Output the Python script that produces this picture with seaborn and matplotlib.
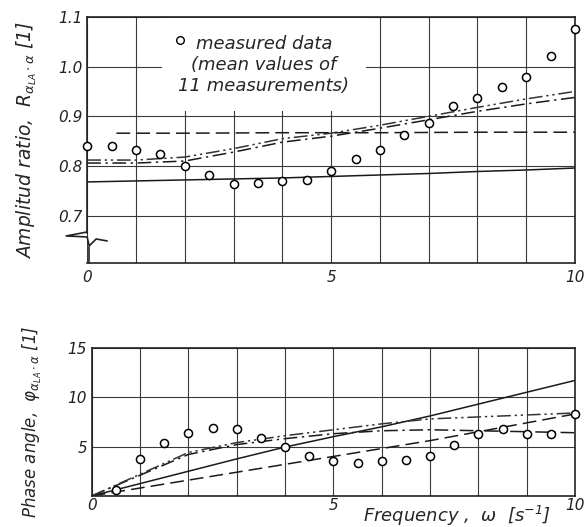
import numpy as np
import pandas as pd
import matplotlib
matplotlib.use("Agg")
import matplotlib.pyplot as plt
import seaborn as sns
from matplotlib.ticker import FixedLocator, FixedFormatter

# ---------------- data ----------------
omega_model = [0, 1, 2, 3, 4, 5, 6, 7, 8, 9, 10]

amp_solid = [0.768, 0.770, 0.772, 0.774, 0.776, 0.779, 0.782, 0.785, 0.789, 0.792, 0.796]
amp_dashdot = [0.806, 0.806, 0.810, 0.828, 0.848, 0.860, 0.876, 0.893, 0.910, 0.925, 0.938]
amp_dashdotdot = [0.812, 0.812, 0.818, 0.835, 0.855, 0.866, 0.882, 0.900, 0.918, 0.935, 0.950]
omega_amp_dashed = [0.6, 2, 4, 6, 8, 10]
amp_dashed = [0.866, 0.866, 0.867, 0.867, 0.868, 0.868]

omega_amp_meas = [0, 0.5, 1, 1.5, 2, 2.5, 3, 3.5, 4, 4.5, 5, 5.5, 6, 6.5, 7, 7.5, 8, 8.5, 9, 9.5, 10]
amp_meas = [0.840, 0.840, 0.833, 0.825, 0.800, 0.781, 0.764, 0.766, 0.769, 0.772, 0.790,
            0.815, 0.833, 0.863, 0.886, 0.920, 0.937, 0.958, 0.980, 1.022, 1.075]

phase_solid = [0, 1.25, 2.5, 3.75, 4.95, 6.0, 7.0, 8.1, 9.3, 10.5, 11.7]
phase_dashed = [0, 0.8, 1.6, 2.4, 3.2, 4.0, 4.8, 5.6, 6.5, 7.4, 8.3]
phase_dashdot = [0, 2.1, 4.2, 5.2, 5.8, 6.3, 6.6, 6.7, 6.6, 6.5, 6.4]
phase_dashdotdot = [0, 2.2, 4.4, 5.4, 6.1, 6.7, 7.3, 7.8, 8.0, 8.2, 8.4]

omega_phase_meas = [0.5, 1, 1.5, 2, 2.5, 3, 3.5, 4, 4.5, 5, 5.5, 6, 6.5, 7, 7.5, 8, 8.5, 9, 9.5, 10]
phase_meas = [0.6, 3.76, 5.4, 6.4, 6.85, 6.8, 5.85, 5.0, 4.0, 3.5, 3.3, 3.5, 3.6, 4.0,
              5.2, 6.3, 6.8, 6.3, 6.3, 8.3]

x_ticks = [0, 1, 2, 3, 4, 5, 6, 7, 8, 9, 10]
x_tick_labels = ['0', '', '', '', '', '5', '', '', '', '', '10']
amp_ticks = [0.7, 0.8, 0.9, 1.0, 1.1]
amp_tick_labels = ['0.7', '0.8', '0.9', '1.0', '1.1']
phase_ticks = [0, 5, 10, 15]
phase_tick_labels = ['', '5', '10', '15']

legend_lines = ['measured data', '(mean values of', '11 measurements)']

# ---------------- style ----------------
sns.set_theme(style="white")
plt.rcParams['font.family'] = ['DejaVu Sans']
plt.rcParams['font.style'] = 'italic'
plt.rcParams['mathtext.fontset'] = 'dejavusans'
plt.rcParams['mathtext.default'] = 'it'

DASHED = (0, (9, 4))
DASHDOT = (0, (9, 3, 1.5, 3))
DASHDOTDOT = (0, (9, 2.5, 1.5, 2.5, 1.5, 2.5))
LW = 1.1

fig = plt.figure(figsize=(5.85, 5.27), dpi=100)
fig.patch.set_facecolor('white')
ax1 = fig.add_axes([0.149, 0.501, 0.834, 0.467])
ax2 = fig.add_axes([0.157, 0.059, 0.826, 0.281])


def style_axes(ax, yticks, ylabels):
    ax.set_xlim(0, 10)
    ax.xaxis.set_major_locator(FixedLocator(x_ticks))
    ax.xaxis.set_major_formatter(FixedFormatter(x_tick_labels))
    ax.yaxis.set_major_locator(FixedLocator(yticks))
    ax.yaxis.set_major_formatter(FixedFormatter(ylabels))
    ax.grid(True, color='#3a3a3a', lw=0.8)
    ax.set_axisbelow(True)
    ax.tick_params(length=0, labelsize=11, colors='#222222')
    for lab in ax.get_xticklabels() + ax.get_yticklabels():
        lab.set_fontstyle('italic')
    for sp in ax.spines.values():
        sp.set_color('#222222')
        sp.set_linewidth(1.2)
        sp.set_zorder(6)


# ---------------- top panel ----------------
style_axes(ax1, amp_ticks, amp_tick_labels)
ax1.set_ylim(0.605, 1.1)
sns.lineplot(x=omega_model, y=amp_solid, ax=ax1, color='k', lw=LW, linestyle='-')
sns.lineplot(x=omega_model, y=amp_dashdot, ax=ax1, color='k', lw=LW, linestyle=DASHDOT)
sns.lineplot(x=omega_model, y=amp_dashdotdot, ax=ax1, color='#333333', lw=LW, linestyle=DASHDOTDOT)
sns.lineplot(x=omega_amp_dashed, y=amp_dashed, ax=ax1, color='k', lw=LW, linestyle=DASHED)
sns.scatterplot(x=omega_amp_meas, y=amp_meas, ax=ax1, marker='o', s=34,
                color='white', edgecolor='black', linewidth=1.1, zorder=7, clip_on=False)
ax1.set_xlabel('')
ax1.set_ylabel(r'Amplitud ratio,  $R_{\alpha_{LA}\cdot\alpha}$ [1]', fontsize=13.5,
               fontstyle='italic')
ax1.yaxis.set_label_coords(-0.098, 0.5)
ax1.tick_params(axis='x', pad=5)

# legend box (white, covers grid)
ax1.text(0.362, 0.805, '\n'.join(legend_lines), transform=ax1.transAxes,
         ha='center', va='center', fontsize=13, fontstyle='italic',
         multialignment='center', linespacing=1.2, zorder=5,
         bbox=dict(facecolor='white', edgecolor='none', pad=12))
ax1.plot([0.19], [0.906], transform=ax1.transAxes, marker='o', ms=5.5,
         mfc='white', mec='black', mew=1.0, zorder=8, ls='none')

# axis break symbol on left spine
ax1.spines['left'].set_bounds(0.666, 1.1)
W, H = 488.0, 246.0
brk = [(0, 31), (-21, 27), (0, 26), (2, 17), (9, 24), (20, 22)]
ax1.plot([p[0] / W for p in brk], [p[1] / H for p in brk], transform=ax1.transAxes,
         color='#222222', lw=1.2, clip_on=False, zorder=7)
ax1.plot([0.004, 0.004], [0.0, 16 / H], transform=ax1.transAxes,
         color='#222222', lw=1.2, clip_on=False, zorder=7)

# ---------------- bottom panel ----------------
style_axes(ax2, phase_ticks, phase_tick_labels)
ax2.set_ylim(0, 15)
sns.lineplot(x=omega_model, y=phase_solid, ax=ax2, color='k', lw=LW, linestyle='-')
sns.lineplot(x=omega_model, y=phase_dashed, ax=ax2, color='k', lw=LW, linestyle=DASHED)
sns.lineplot(x=omega_model, y=phase_dashdot, ax=ax2, color='k', lw=LW, linestyle=DASHDOT)
sns.lineplot(x=omega_model, y=phase_dashdotdot, ax=ax2, color='#333333', lw=LW, linestyle=DASHDOTDOT)
sns.scatterplot(x=omega_phase_meas, y=phase_meas, ax=ax2, marker='o', s=34,
                color='white', edgecolor='black', linewidth=1.1, zorder=7, clip_on=False)
ax2.set_ylabel(r'Phase angle,  $\varphi_{\alpha_{LA}\cdot\alpha}$ [1]', fontsize=12,
               fontstyle='italic')
ax2.yaxis.set_label_coords(-0.1, 0.5)
ax2.set_xlabel(r'Frequency ,  $\omega$  [s$^{-1}$]', fontsize=13, fontstyle='italic')
ax2.xaxis.set_label_coords(0.755, -0.055)
ax2.tick_params(axis='x', pad=1.5)

fig.savefig('out.png', dpi=100, facecolor='white')
